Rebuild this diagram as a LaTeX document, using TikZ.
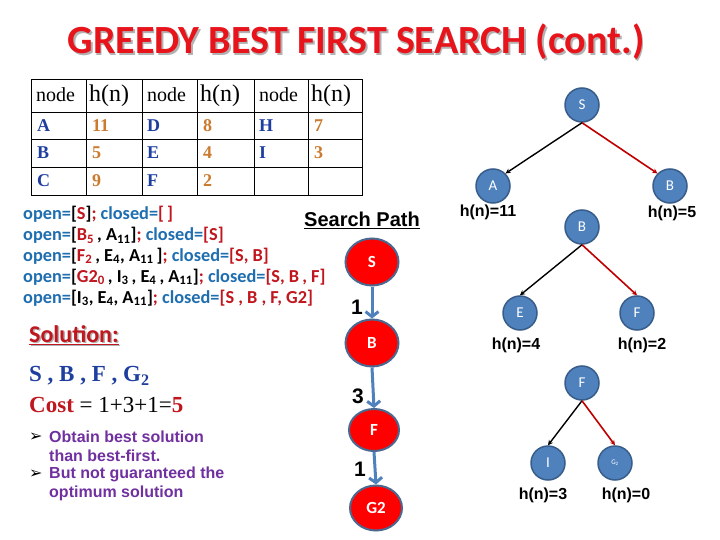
\documentclass[tikz,border=0pt]{standalone}
\usepackage{fontspec}
\setmainfont{Liberation Serif}
\newfontfamily\calib{Carlito}
\newfontfamily\ari{Liberation Sans}
\newfontfamily\dvs{DejaVu Sans}
\usetikzlibrary{shapes.geometric,arrows.meta}
\definecolor{titred}{HTML}{E8141B}
\definecolor{ob}{HTML}{1F6EB0}
\definecolor{orr}{HTML}{C0161E}
\definecolor{tabblue}{HTML}{1F3FA0}
\definecolor{taborange}{HTML}{CC7A2E}
\definecolor{nblue}{HTML}{4F81BD}
\definecolor{nborder}{HTML}{385D8A}
\definecolor{pborder}{HTML}{4A6890}
\definecolor{arrblue}{HTML}{4F81BD}
\definecolor{purp}{HTML}{7030A0}
\definecolor{edgered}{HTML}{C00000}
\definecolor{solblue}{HTML}{1F3F9F}
\newcommand\fsz[1]{\fontsize{#1}{#1}\selectfont}
\newcommand\Bl[1]{\textcolor{ob}{#1}}
\newcommand\Rd[1]{\textcolor{orr}{#1}}
\newcommand\sbs[1]{\textsubscript{#1}}
\tikzset{
  hdnode/.style={anchor=west, inner sep=0pt, font=\fsz{20}},
  hdh/.style={anchor=west, inner sep=0pt, font=\fsz{24}},
  tletter/.style={anchor=west, inner sep=0pt, font=\bfseries\fsz{18}, text=tabblue},
  tnum/.style={anchor=west, inner sep=0pt, font=\bfseries\fsz{18}, text=taborange},
  openline/.style={anchor=base west, inner sep=0pt, font=\calib\bfseries\fsz{18.3}},
  pnode/.style={ellipse, fill=red, draw=pborder, line width=2pt, minimum width=53pt, minimum height=47pt, inner sep=0pt, text=white, font=\calib\bfseries\fsz{17}},
  parrow/.style={draw=arrblue, line width=3pt, -{Straight Barb[length=5pt,width=13pt]}},
  plabel/.style={font=\ari\bfseries\fsz{21}, inner sep=0pt},
  tnode/.style={circle, fill=nblue, draw=nborder, line width=1.5pt, minimum size=34pt, inner sep=0pt, text=white, font=\calib\fsz{15}},
  hlabel/.style={font=\ari\bfseries\fsz{16}, inner sep=0pt},
  blackedge/.style={draw=black, line width=1.4pt, -{Stealth[length=5pt,width=5pt]}},
  rededge/.style={draw=edgered, line width=1.6pt, -{Stealth[length=5pt,width=5pt]}},
  bullet/.style={anchor=west, inner sep=0pt, font=\dvs\fsz{16}},
  btext/.style={anchor=west, inner sep=0pt, font=\ari\bfseries\fsz{16}, text=purp}
}
\begin{document}
\begin{tikzpicture}[x=1pt,y=-1pt]
\useasboundingbox (0,0) rectangle (720,540);
\fill[white] (0,0) rectangle (720,540);

% title
\node[font=\calib\bfseries\fsz{40}, text=black!30] (titshadow) at (357.8,43.8) {GREEDY BEST FIRST SEARCH (cont.)};
\node[font=\calib\bfseries\fsz{40}, text=titred] (title) at (356,42) {GREEDY BEST FIRST SEARCH (cont.)};

% table
\draw[line width=0.9pt] (31,79) rectangle (362,195);
\foreach \x in {86,142,197,254,308} \draw[line width=0.9pt] (\x,79) -- (\x,195);
\foreach \y in {112,139,167} \draw[line width=0.9pt] (31,\y) -- (362,\y);
\node[hdnode] (h1) at (36,95) {node};
\node[hdh] (h2) at (89,96) {h(n)};
\node[hdnode] (h3) at (147,95) {node};
\node[hdh] (h4) at (200,96) {h(n)};
\node[hdnode] (h5) at (259,95) {node};
\node[hdh] (h6) at (311,96) {h(n)};
\node[tletter] (ta) at (37,126) {A};
\node[tnum] (tav) at (92,126) {11};
\node[tletter] (tb) at (37,153) {B};
\node[tnum] (tbv) at (92,153) {5};
\node[tletter] (tc) at (37,181) {C};
\node[tnum] (tcv) at (92,181) {9};
\node[tletter] (td) at (147,126) {D};
\node[tnum] (tdv) at (203,126) {8};
\node[tletter] (te) at (147,153) {E};
\node[tnum] (tev) at (203,153) {4};
\node[tletter] (tf) at (147,181) {F};
\node[tnum] (tfv) at (203,181) {2};
\node[tletter] (th) at (259,126) {H};
\node[tnum] (thv) at (314,126) {7};
\node[tletter] (ti) at (259,153) {I};
\node[tnum] (tiv) at (314,153) {3};

% open / closed lines
\node[openline] (l1) at (23,220) {\Bl{open=}[\Rd{S}]\Rd{;} \Bl{closed=}\Rd{[\,]}};
\node[openline] (l2) at (23,240.5) {\Bl{open=}[\Rd{B\sbs{5}}\,, A\sbs{11}]\Rd{;} \Bl{closed=}\Rd{[S]}};
\node[openline] (l3) at (23,261) {\Bl{open=}[\Rd{F\sbs{2}}\,, E\sbs{4}, A\sbs{11}\,]\Rd{;} \Bl{closed=}\Rd{[S, B]}};
\node[openline] (l4) at (23,282) {\Bl{open=}[\Rd{G2\sbs{0}}\,, I\sbs{3}\,, E\sbs{4}\,, A\sbs{11}]\Rd{;} \Bl{closed=}\Rd{[S, B\,, F]}};
\node[openline] (l5) at (23,303) {\Bl{open=}[I\sbs{3}, E\sbs{4}, A\sbs{11}]\Rd{;} \Bl{closed=}\Rd{[S , B , F, G2]}};

% search path
\node[font=\ari\bfseries\fsz{20}, inner sep=0pt] (sp) at (362,220) {\underline{Search Path}};
\node[pnode] (ps) at (372,262) {S};
\node[pnode] (pb) at (372,343) {B};
\node[pnode, minimum width=50pt, minimum height=42pt] (pf) at (374,430) {F};
\node[pnode, minimum width=52pt, minimum height=45pt] (pg) at (376,508) {G2};
\draw[parrow] (ps.south) -- (pb.north);
\draw[parrow] (pb.south) -- (pf.north);
\draw[parrow] (pf.south) -- (pg.north);
\node[plabel] (c1) at (357,307) {1};
\node[plabel] (c2) at (358,396) {3};
\node[plabel] (c3) at (360,469) {1};

% tree
\node[tnode] (S) at (582,105) {S};
\node[tnode] (A) at (493,186) {A};
\node[tnode] (B) at (670,186) {B};
\node[hlabel] (hA) at (488,212) {h(n)=11};
\node[hlabel] (hB) at (672,213) {h(n)=5};
\draw[blackedge] (S.south) -- (A.north east);
\draw[rededge] (S.south) -- (B.north west);
\node[tnode] (B2) at (582,227) {B};
\node[tnode] (E) at (520,313) {E};
\node[tnode] (F) at (637,313) {F};
\node[hlabel] (hE) at (516,345) {h(n)=4};
\node[hlabel] (hF) at (642,345) {h(n)=2};
\draw[blackedge] (B2.south) -- (E.north);
\draw[rededge] (B2.south) -- (F.north);
\node[tnode] (F2) at (582,383) {F};
\node[tnode] (I) at (548,463) {I};
\node[tnode, font=\calib\fsz{7}] (G) at (615,463) {G\sbs{2}};
\node[hlabel] (hI) at (543,495) {h(n)=3};
\node[hlabel] (hG) at (626,495) {h(n)=0};
\draw[blackedge] (F2.south) -- (I.north);
\draw[rededge] (F2.south) -- (G.north);

% solution
\node[anchor=west, inner sep=0pt, font=\calib\bfseries\fsz{24}, text=black!30] (solsh) at (30.5,336.5) {\underline{Solution:}};
\node[anchor=west, inner sep=0pt, font=\calib\bfseries\fsz{24}, text=orr] (sol) at (29,335) {\underline{Solution:}};
\node[anchor=west, inner sep=0pt, font=\bfseries\fsz{23}, text=solblue] (path) at (29,376) {S , B , F , G\sbs{2}};
\node[anchor=west, inner sep=0pt, font=\fsz{23}] (cost) at (29,405) {\textcolor{orr}{\bfseries Cost} = 1+3+1=\textcolor{orr}{\bfseries 5}};
\node[bullet] (bu1) at (29,437) {➢};
\node[btext] (t1) at (49,437) {Obtain best solution};
\node[btext] (t2) at (49,456) {than best-first.};
\node[bullet] (bu2) at (29,474) {➢};
\node[btext] (t3) at (49,474) {But not guaranteed the};
\node[btext] (t4) at (49,493) {optimum solution};
\end{tikzpicture}
\end{document}
